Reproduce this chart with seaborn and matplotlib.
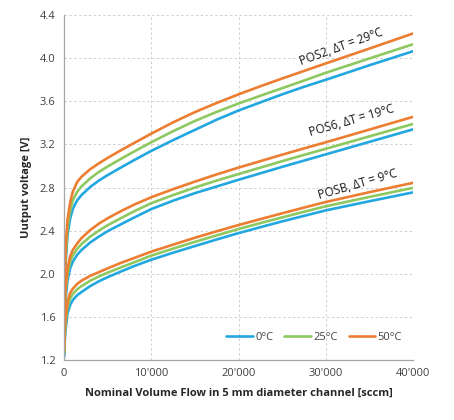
import numpy as np
import pandas as pd
import matplotlib
matplotlib.use("Agg")
import matplotlib.pyplot as plt
import seaborn as sns

flow = [0, 100, 200, 400, 700, 1000, 1500, 2000, 3000, 4000, 5000, 6500, 8000,
        10000, 12500, 15000, 17500, 20000, 22500, 25000, 27500, 30000, 35000, 40000]

pos2_0c  = [1.25, 1.88, 2.12, 2.36, 2.51, 2.60, 2.68, 2.73, 2.805, 2.865, 2.915, 2.985, 3.053,
            3.14, 3.24, 3.335, 3.43, 3.515, 3.59, 3.665, 3.735, 3.80, 3.935, 4.065]
pos2_25c = [1.27, 1.95, 2.19, 2.43, 2.58, 2.68, 2.76, 2.81, 2.885, 2.945, 2.995, 3.065, 3.133,
            3.22, 3.323, 3.418, 3.502, 3.58, 3.652, 3.722, 3.793, 3.865, 3.998, 4.13]
pos2_50c = [1.30, 2.00, 2.25, 2.50, 2.66, 2.76, 2.85, 2.90, 2.97, 3.025, 3.075, 3.145, 3.212,
            3.30, 3.405, 3.50, 3.585, 3.665, 3.74, 3.812, 3.882, 3.952, 4.09, 4.23]

pos6_0c  = [1.24, 1.62, 1.78, 1.94, 2.05, 2.11, 2.175, 2.22, 2.29, 2.345, 2.395, 2.458, 2.52,
            2.60, 2.678, 2.748, 2.81, 2.872, 2.932, 2.992, 3.05, 3.108, 3.224, 3.34]
pos6_25c = [1.27, 1.70, 1.85, 2.00, 2.11, 2.17, 2.23, 2.275, 2.345, 2.40, 2.45, 2.515, 2.578,
            2.655, 2.73, 2.80, 2.865, 2.925, 2.985, 3.045, 3.103, 3.16, 3.275, 3.39]
pos6_50c = [1.30, 1.75, 1.90, 2.05, 2.16, 2.22, 2.28, 2.33, 2.405, 2.465, 2.515, 2.58, 2.64,
            2.71, 2.785, 2.855, 2.922, 2.985, 3.045, 3.105, 3.163, 3.22, 3.338, 3.456]

posb_0c  = [1.22, 1.40, 1.50, 1.63, 1.71, 1.755, 1.80, 1.83, 1.885, 1.93, 1.968, 2.02, 2.07,
            2.13, 2.195, 2.257, 2.318, 2.377, 2.432, 2.486, 2.537, 2.588, 2.673, 2.755]
posb_25c = [1.25, 1.45, 1.56, 1.69, 1.77, 1.81, 1.855, 1.885, 1.935, 1.975, 2.01, 2.058, 2.105,
            2.168, 2.233, 2.296, 2.356, 2.415, 2.47, 2.523, 2.575, 2.626, 2.713, 2.797]
posb_50c = [1.28, 1.50, 1.61, 1.74, 1.82, 1.86, 1.905, 1.935, 1.98, 2.015, 2.05, 2.10, 2.145,
            2.205, 2.27, 2.334, 2.394, 2.452, 2.507, 2.561, 2.614, 2.666, 2.757, 2.844]

temps = ["0°C", "25°C", "50°C"]
labels = ["POS2, ΔT = 29°C", "POS6, ΔT = 19°C", "POSB, ΔT = 9°C"]
x_ticks = [0, 10000, 20000, 30000, 40000]
x_ticklabels = ["0", "10'000", "20'000", "30'000", "40'000"]
y_ticks = [1.2, 1.6, 2.0, 2.4, 2.8, 3.2, 3.6, 4.0, 4.4]

series = {
    ("POS2", "0°C"): pos2_0c, ("POS2", "25°C"): pos2_25c, ("POS2", "50°C"): pos2_50c,
    ("POS6", "0°C"): pos6_0c, ("POS6", "25°C"): pos6_25c, ("POS6", "50°C"): pos6_50c,
    ("POSB", "0°C"): posb_0c, ("POSB", "25°C"): posb_25c, ("POSB", "50°C"): posb_50c,
}
rows = []
for (pos, t), vals in series.items():
    for f, v in zip(flow, vals):
        rows.append({"flow": f, "volt": v, "temp": t, "pos": pos})
df = pd.DataFrame(rows)

sns.set_theme(style="white")
plt.rcParams["font.family"] = ["Open Sans", "DejaVu Sans"]

colors = {"0°C": "#22A7E0", "25°C": "#8DC860", "50°C": "#ED7D31"}

fig = plt.figure(figsize=(4.54, 4.20), dpi=100)
ax = fig.add_axes([0.141, 0.143, 0.769, 0.821])

sns.lineplot(data=df, x="flow", y="volt", hue="temp", units="pos",
             estimator=None, palette=colors, hue_order=temps,
             linewidth=1.9, ax=ax, sort=True)
for ln in ax.get_lines():
    ln.set_solid_joinstyle("round")
    ln.set_solid_capstyle("round")

ax.set_xlim(0, 40000)
ax.set_ylim(1.2, 4.4)
ax.set_xticks(x_ticks)
ax.set_xticklabels(x_ticklabels)
ax.set_yticks(y_ticks)
ax.set_yticklabels([f"{v:.1f}" for v in y_ticks])
ax.tick_params(axis="both", labelsize=8, colors="#404040", length=0, pad=6)

ax.grid(True, linestyle=(0, (2.5, 2.5)), color="#CFCFCF", linewidth=0.7)
for s in ["top", "right"]:
    ax.spines[s].set_visible(False)
for s in ["left", "bottom"]:
    ax.spines[s].set_color("#A6A6A6")
    ax.spines[s].set_linewidth(0.9)

ax.set_xlabel("Nominal Volume Flow in 5 mm diameter channel [sccm]",
              fontsize=8, fontweight="bold", color="#262626", labelpad=6)
ax.set_ylabel("Uutput voltage [V]", fontsize=8, fontweight="bold",
              color="#262626", labelpad=6)

label_pos = [(31750, 4.11, 20), (32900, 3.42, 16), (33600, 2.83, 16)]
for txt, (lx, ly, rot) in zip(labels, label_pos):
    ax.text(lx, ly, txt, rotation=rot, ha="center", va="center",
            fontsize=8.5, color="#1a1a1a", rotation_mode="anchor")

handles, lbls = ax.get_legend_handles_labels()
ax.legend(handles, lbls, loc="center", bbox_to_anchor=(0.716, 0.064),
          ncol=3, frameon=False, fontsize=8, handlelength=2.4,
          handletextpad=0.2, columnspacing=1.0, labelcolor="#404040")

fig.savefig("out.png", dpi=100)
